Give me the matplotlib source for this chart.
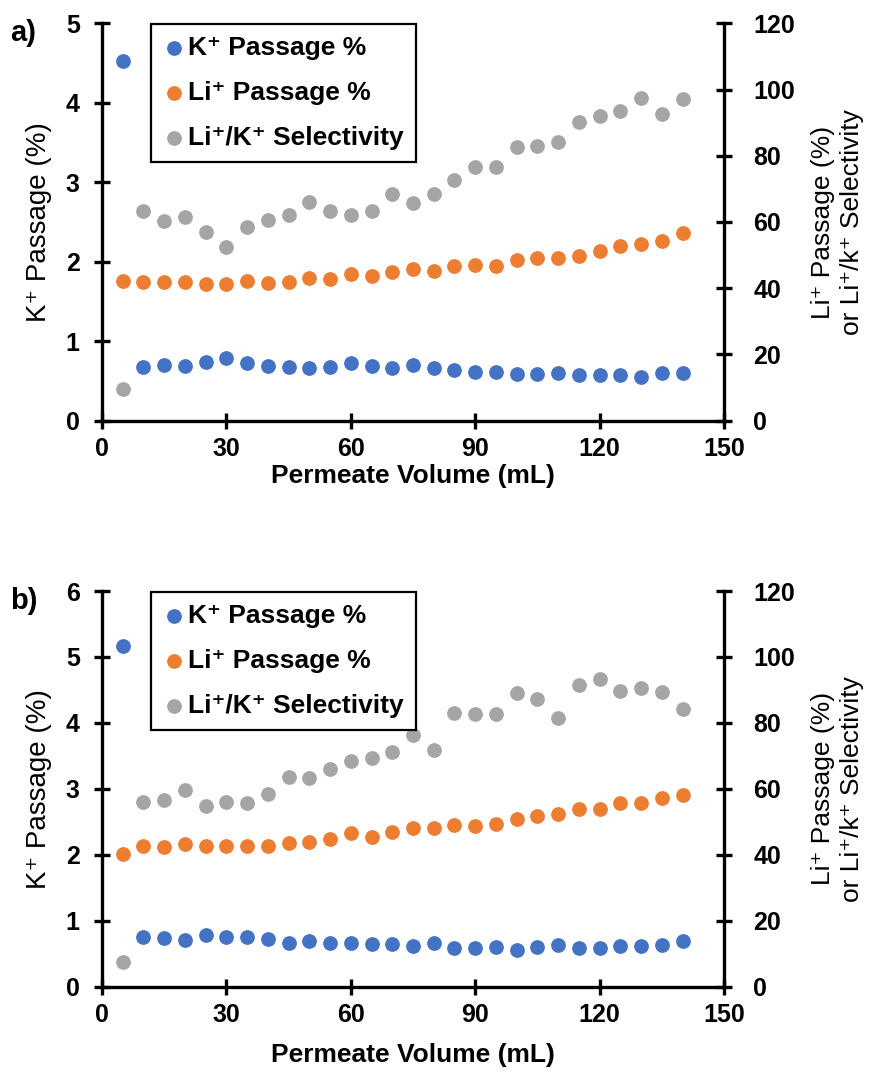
import matplotlib.pyplot as plt

plt.rcParams['font.family'] = ['Liberation Sans', 'DejaVu Sans']

# Permeate volume (mL) at each sample
volume = [5, 10, 15, 20, 25, 30, 35, 40, 45, 50, 55, 60, 65, 70,
          75, 80, 85, 90, 95, 100, 105, 110, 115, 120, 125, 130, 135, 140]

# a) K+ passage (%), Li+ passage (%), Li+/K+ selectivity
k_pass_a = [4.53, 0.67, 0.70, 0.69, 0.74, 0.79, 0.72, 0.69, 0.67, 0.66, 0.67, 0.72, 0.69, 0.66,
            0.70, 0.66, 0.64, 0.61, 0.61, 0.59, 0.59, 0.60, 0.57, 0.57, 0.57, 0.55, 0.60, 0.60]
li_pass_a = [42.3, 42.0, 42.0, 42.0, 41.3, 41.3, 42.3, 41.7, 42.0, 43.2, 42.7, 44.3, 43.8, 44.9,
             45.9, 45.3, 46.6, 46.9, 46.6, 48.4, 49.1, 49.1, 49.8, 51.3, 52.8, 53.4, 54.4, 56.6]
select_a = [9.5, 63.3, 60.4, 61.5, 57.1, 52.4, 58.5, 60.7, 62.2, 66.0, 63.4, 62.2, 63.4, 68.5,
            65.6, 68.5, 72.8, 76.6, 76.6, 82.5, 83.1, 84.2, 90.1, 91.9, 93.6, 97.3, 92.6, 97.0]

# b)
k_pass_b = [5.16, 0.76, 0.74, 0.71, 0.78, 0.76, 0.76, 0.72, 0.67, 0.69, 0.67, 0.67, 0.65, 0.65,
            0.61, 0.67, 0.58, 0.58, 0.60, 0.56, 0.60, 0.63, 0.58, 0.58, 0.62, 0.62, 0.63, 0.69]
li_pass_b = [40.2, 42.8, 42.5, 43.2, 42.8, 42.8, 42.8, 42.8, 43.5, 43.8, 44.7, 46.5, 45.5, 46.8,
             48.0, 48.2, 49.0, 48.7, 49.3, 50.9, 51.9, 52.4, 53.8, 53.9, 55.6, 55.6, 57.3, 58.1]
select_b = [7.6, 55.9, 56.6, 59.7, 54.8, 55.9, 55.6, 58.4, 63.7, 63.2, 66.0, 68.5, 69.3, 71.3,
            76.3, 71.8, 82.9, 82.7, 82.7, 89.2, 87.2, 81.6, 91.5, 93.2, 89.8, 90.5, 89.3, 84.1]

labels = ['K⁺ Passage %', 'Li⁺ Passage %', 'Li⁺/K⁺ Selectivity']

blue = '#4472C4'
orange = '#ED7D31'
gray = '#A5A5A5'
tick_fs = 18

fig = plt.figure(figsize=(8.7, 10.74), dpi=100)


def panel(rect, k, li, sel, kmax, tag, xlab_y, leg_y):
    ax = fig.add_axes(rect)
    ax2 = ax.twinx()
    ms = 92
    h1 = ax.scatter(volume, k, s=ms, color=blue, zorder=3)
    h2 = ax2.scatter(volume, li, s=ms, color=orange, zorder=3)
    h3 = ax2.scatter(volume, sel, s=ms, color=gray, zorder=3)

    ax.set_xlim(0, 150)
    ax.set_ylim(0, kmax)
    ax2.set_ylim(0, 120)
    ax.set_xticks(range(0, 151, 30))
    ax.set_yticks(range(0, kmax + 1))
    ax2.set_yticks(range(0, 121, 20))

    for a in (ax, ax2):
        for s in a.spines.values():
            s.set_linewidth(2.4)
        a.spines['top'].set_visible(False)
    ax.spines['right'].set_visible(False)
    ax2.spines['left'].set_visible(False)
    ax2.spines['bottom'].set_visible(False)

    ax.tick_params(axis='x', direction='inout', length=12, width=2.4, labelsize=tick_fs, pad=6)
    ax.tick_params(axis='y', direction='inout', length=12, width=2.4, labelsize=tick_fs, pad=10)
    ax2.tick_params(axis='y', direction='inout', length=12, width=2.4, labelsize=tick_fs, pad=15)
    for lbl in ax.get_xticklabels() + ax.get_yticklabels() + ax2.get_yticklabels():
        lbl.set_fontweight('bold')

    x0, y0, w, h = rect
    fig.text(x0 + w / 2, xlab_y, 'Permeate Volume (mL)', fontsize=19, fontweight='bold',
             ha='center', va='center')
    fig.text(0.045, y0 + h / 2, 'K⁺ Passage (%)', fontsize=20, rotation=90,
             ha='center', va='center')
    fig.text(0.963, y0 + h / 2, 'Li⁺ Passage (%)\nor Li⁺/k⁺ Selectivity', fontsize=19,
             rotation=90, ha='center', va='center', multialignment='center', linespacing=1.25)

    leg = ax2.legend([h1, h2, h3], labels, loc='upper left', bbox_to_anchor=(0.079, leg_y),
                     prop={'size': tick_fs + 1, 'weight': 'bold'}, fancybox=False,
                     edgecolor='black', framealpha=1, handlelength=0.8, handletextpad=0.15,
                     borderpad=0.45, labelspacing=0.8, borderaxespad=0)
    leg.get_frame().set_linewidth(1.6)

    fig.text(0.012, y0 + h + 0.004, tag, fontsize=21, fontweight='bold', va='top', ha='left')
    return ax


panel([0.1172, 0.6083, 0.715, 0.370], k_pass_a, li_pass_a, select_a, 5, 'a)', 0.5568, 0.998)
panel([0.1172, 0.0813, 0.715, 0.3684], k_pass_b, li_pass_b, select_b, 6, 'b)', 0.0177, 0.9975)

fig.savefig('out.png', dpi=100)
